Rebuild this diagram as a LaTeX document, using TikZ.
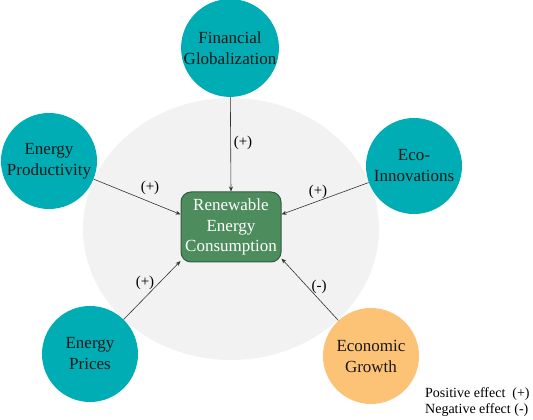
\documentclass[tikz,border=0pt]{standalone}
\usepackage{fontspec}
\setmainfont{Liberation Serif}
\usetikzlibrary{arrows.meta}
\definecolor{drvteal}{RGB}{0,173,180}
\definecolor{drvorange}{RGB}{252,194,118}
\definecolor{recgreen}{RGB}{77,140,92}
\definecolor{recedge}{RGB}{52,92,62}
\tikzset{
  driver/.style={circle, fill=drvteal, minimum size=96pt, inner sep=0pt, align=center,
    text=black!90, font=\fontsize{17}{21}\selectfont},
  effect/.style={-{Stealth[length=5pt,width=4pt]}, line width=0.6pt, black!80},
  sign/.style={font=\fontsize{15}{18}\selectfont},
}
\begin{document}
\begin{tikzpicture}[x=1pt,y=1pt]
    \useasboundingbox (0,0) rectangle (533,420);
    \fill[black!5] (231,191) ellipse [x radius=148, y radius=131];
    % centre
    \node[draw=recedge, line width=1pt, fill=recgreen, rounded corners=10pt, minimum width=100pt,
      minimum height=70pt, inner sep=0pt, align=center, text=white,
      font=\fontsize{17}{20.5}\selectfont] (rec) at (231,193) {Renewable\\Energy\\Consumption};
    % drivers
    \node[driver] (fin) at (230,372) {Financial\\Globalization};
    \node[driver] (prod) at (49,259) {Energy\\Productivity};
    \node[driver] (eco) at (414,254) {Eco-\\Innovations};
    \node[driver] (price) at (90,66) {Energy\\Prices};
    \node[driver, fill=drvorange] (growth) at (371,64) {Economic\\Growth};
    % effects
    \draw[effect] (fin) -- (rec.north);
    \draw[effect] (prod) -- (rec.166);
    \draw[effect] (eco) -- (rec.14);
    \draw[effect] (price) -- (rec.214);
    \draw[effect] (growth) -- (rec.328);
    \node[sign] (s1) at (243,277) {(+)};
    \node[sign] (s2) at (150,232) {(+)};
    \node[sign] (s3) at (318,228) {(+)};
    \node[sign] (s4) at (145,137) {(+)};
    \node[sign] (s5) at (319,133) {(-)};
    % legend
    \node[anchor=west, align=left, inner sep=0pt, font=\fontsize{14}{15.5}\selectfont] (key) at (425,18)
      {Positive effect\ \ (+)\\Negative effect (-)};
  \end{tikzpicture}
\end{document}
